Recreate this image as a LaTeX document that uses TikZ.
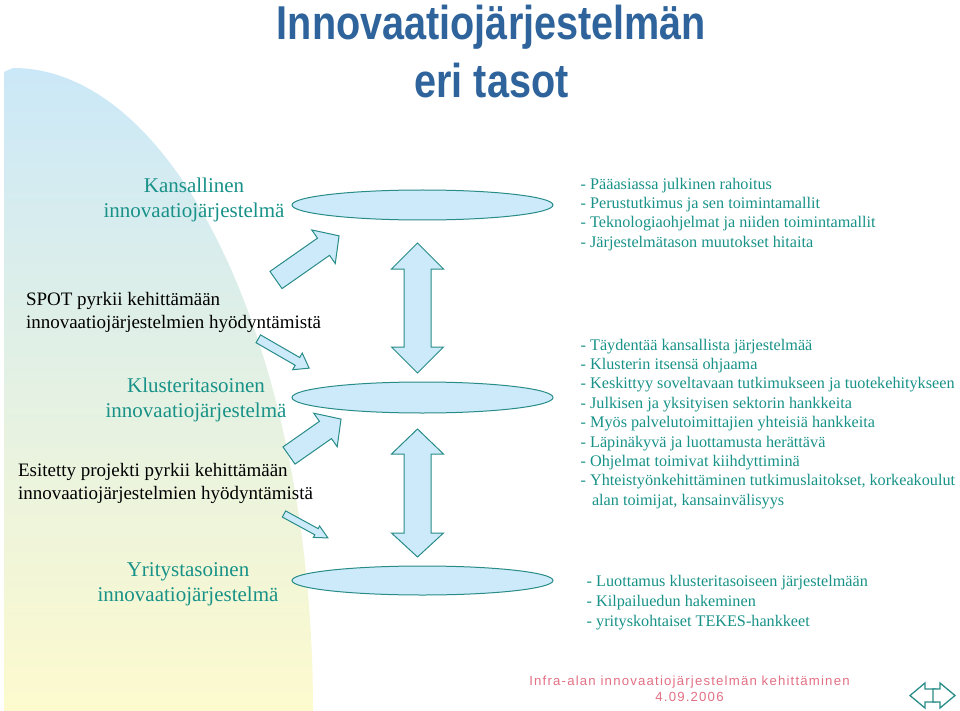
\documentclass[tikz,border=0pt]{standalone}
\usepackage{fontspec}
\setmainfont{Liberation Serif}
\newfontfamily\titlefont{Liberation Sans}[FakeStretch=0.834]
\newfontfamily\footfont{Liberation Sans}[LetterSpace=9]
\usetikzlibrary{shapes.geometric}
\definecolor{titleblue}{RGB}{46,100,155}
\definecolor{tealtxt}{RGB}{24,146,136}
\definecolor{tealline}{RGB}{40,140,136}
\definecolor{lightblue}{RGB}{205,234,250}
\definecolor{pinktxt}{RGB}{226,112,132}
\definecolor{bgtop}{RGB}{203,232,248}
\definecolor{bgmid}{RGB}{228,241,226}
\definecolor{bgbot}{RGB}{253,250,206}
\newcommand\blockarr[7]{%
  \draw[barrow, shift={(#1,#2)}, rotate=#3] (0,-#5) -- (#4-#6,-#5) -- (#4-#6,-#7) -- (#4,0) -- (#4-#6,#7) -- (#4-#6,#5) -- (0,#5) -- cycle;}
\begin{document}
\begin{tikzpicture}[x=1pt,y=-1pt,
  txt/.style={inner sep=0pt, outer sep=0pt},
  bigteal/.style={txt, anchor=base, text=tealtxt, font={\fontsize{21}{25}\selectfont}},
  blacktxt/.style={txt, anchor=base west, text=black, font={\fontsize{19}{23}\selectfont}},
  listtxt/.style={txt, anchor=base west, text=tealtxt},
  level/.style={ellipse, draw=tealline, fill=lightblue, line width=1pt, minimum width=261pt, inner sep=0pt},
  barrow/.style={draw=tealline, fill=lightblue, line width=1pt, line join=miter},
  navarrow/.style={draw=tealline, fill=white, line width=1.3pt}]
\useasboundingbox (0,0) rectangle (960,711);
% background
\shade[top color=bgtop, middle color=bgmid, bottom color=bgbot]
  (4,711) -- (4,72) -- (13,68) .. controls (178.7,68) and (313,356) .. (313,711) -- cycle;
% title
\node[txt, anchor=base, text=titleblue, font={\titlefont\bfseries\fontsize{47.5}{58}\selectfont}] (title) at (491.5,39.3)
  {\begin{tabular}[t]{@{}c@{}}Innovaatiojärjestelmän\\eri tasot\end{tabular}};
% level ellipses
\node[level, minimum height=30pt] (e1) at (422.5,205) {};
\node[level, minimum height=31pt] (e2) at (422.5,397.5) {};
\node[level, minimum height=29pt] (e3) at (422.5,580.5) {};
% vertical double arrows
\draw[barrow] (417.5,243) -- (443.5,269) -- (431,269) -- (431,347) -- (443.5,347) -- (417.5,373) -- (391.5,347) -- (404,347) -- (404,269) -- (391.5,269) -- cycle;
\draw[barrow] (417.5,429) -- (443.5,454) -- (431,454) -- (431,533) -- (443.5,533) -- (417.5,557) -- (391.5,533) -- (404,533) -- (404,454) -- (391.5,454) -- cycle;
% diagonal block arrows
\blockarr{276}{280}{35}{77}{10.5}{19}{20.5}
\blockarr{289}{455.5}{35}{63.5}{10.5}{19}{20.5}
\blockarr{258.3}{338.8}{-30}{58.7}{4.5}{13.5}{9.6}
\blockarr{284}{514}{-28.6}{50}{3.5}{13}{6.5}
% left texts
\node[bigteal] (kans) at (194,193) {\begin{tabular}[t]{@{}c@{}}Kansallinen\\innovaatiojärjestelmä\end{tabular}};
\node[blacktxt] (spot) at (26,305) {\begin{tabular}[t]{@{}l@{}}SPOT pyrkii kehittämään\\innovaatiojärjestelmien hyödyntämistä\end{tabular}};
\node[bigteal] (klus) at (196,392) {\begin{tabular}[t]{@{}c@{}}Klusteritasoinen\\innovaatiojärjestelmä\end{tabular}};
\node[blacktxt] (esit) at (18,476) {\begin{tabular}[t]{@{}l@{}}Esitetty projekti pyrkii kehittämään\\innovaatiojärjestelmien hyödyntämistä\end{tabular}};
\node[bigteal] (yrit) at (188,576) {\begin{tabular}[t]{@{}c@{}}Yritystasoinen\\innovaatiojärjestelmä\end{tabular}};
% right texts
\node[listtxt, font={\fontsize{16.2}{19.33}\selectfont}] (r1) at (580.7,189.3) {\begin{tabular}[t]{@{}l@{}}%
- Pääasiassa julkinen rahoitus\\
- Perustutkimus ja sen toimintamallit\\
- Teknologiaohjelmat ja niiden toimintamallit\\
- Järjestelmätason muutokset hitaita\end{tabular}};
\node[listtxt, font={\fontsize{16.2}{19.4}\selectfont}] (r2) at (580.7,350) {\begin{tabular}[t]{@{}l@{}}%
- Täydentää kansallista järjestelmää\\
- Klusterin itsensä ohjaama\\
- Keskittyy soveltavaan tutkimukseen ja tuotekehitykseen\\
- Julkisen ja yksityisen sektorin hankkeita\\
- Myös palvelutoimittajien yhteisiä hankkeita\\
- Läpinäkyvä ja luottamusta herättävä\\
- Ohjelmat toimivat kiihdyttiminä\\
- Yhteistyönkehittäminen tutkimuslaitokset, korkeakoulut\\
\hspace*{11.3pt}alan toimijat, kansainvälisyys\end{tabular}};
\node[listtxt, font={\fontsize{16.2}{19.7}\selectfont}] (r3) at (586.7,586.7) {\begin{tabular}[t]{@{}l@{}}%
- Luottamus klusteritasoiseen järjestelmään\\
- Kilpailuedun hakeminen\\
- yrityskohtaiset TEKES-hankkeet\end{tabular}};
% footer
\node[txt, anchor=base, text=pinktxt, font={\footfont\fontsize{13.2}{16.7}\selectfont}] (foot) at (689.5,685)
  {\begin{tabular}[t]{@{}c@{}}Infra-alan innovaatiojärjestelmän kehittäminen\\4.09.2006\end{tabular}};
% navigation arrows
\draw[navarrow] (910,695.5) -- (925,683) -- (925,689) -- (936,689) -- (936,702) -- (925,702) -- (925,708) -- cycle;
\draw[navarrow] (955,695.5) -- (940,683) -- (940,689) -- (933,689) -- (933,702) -- (940,702) -- (940,708) -- cycle;
\end{tikzpicture}
\end{document}
